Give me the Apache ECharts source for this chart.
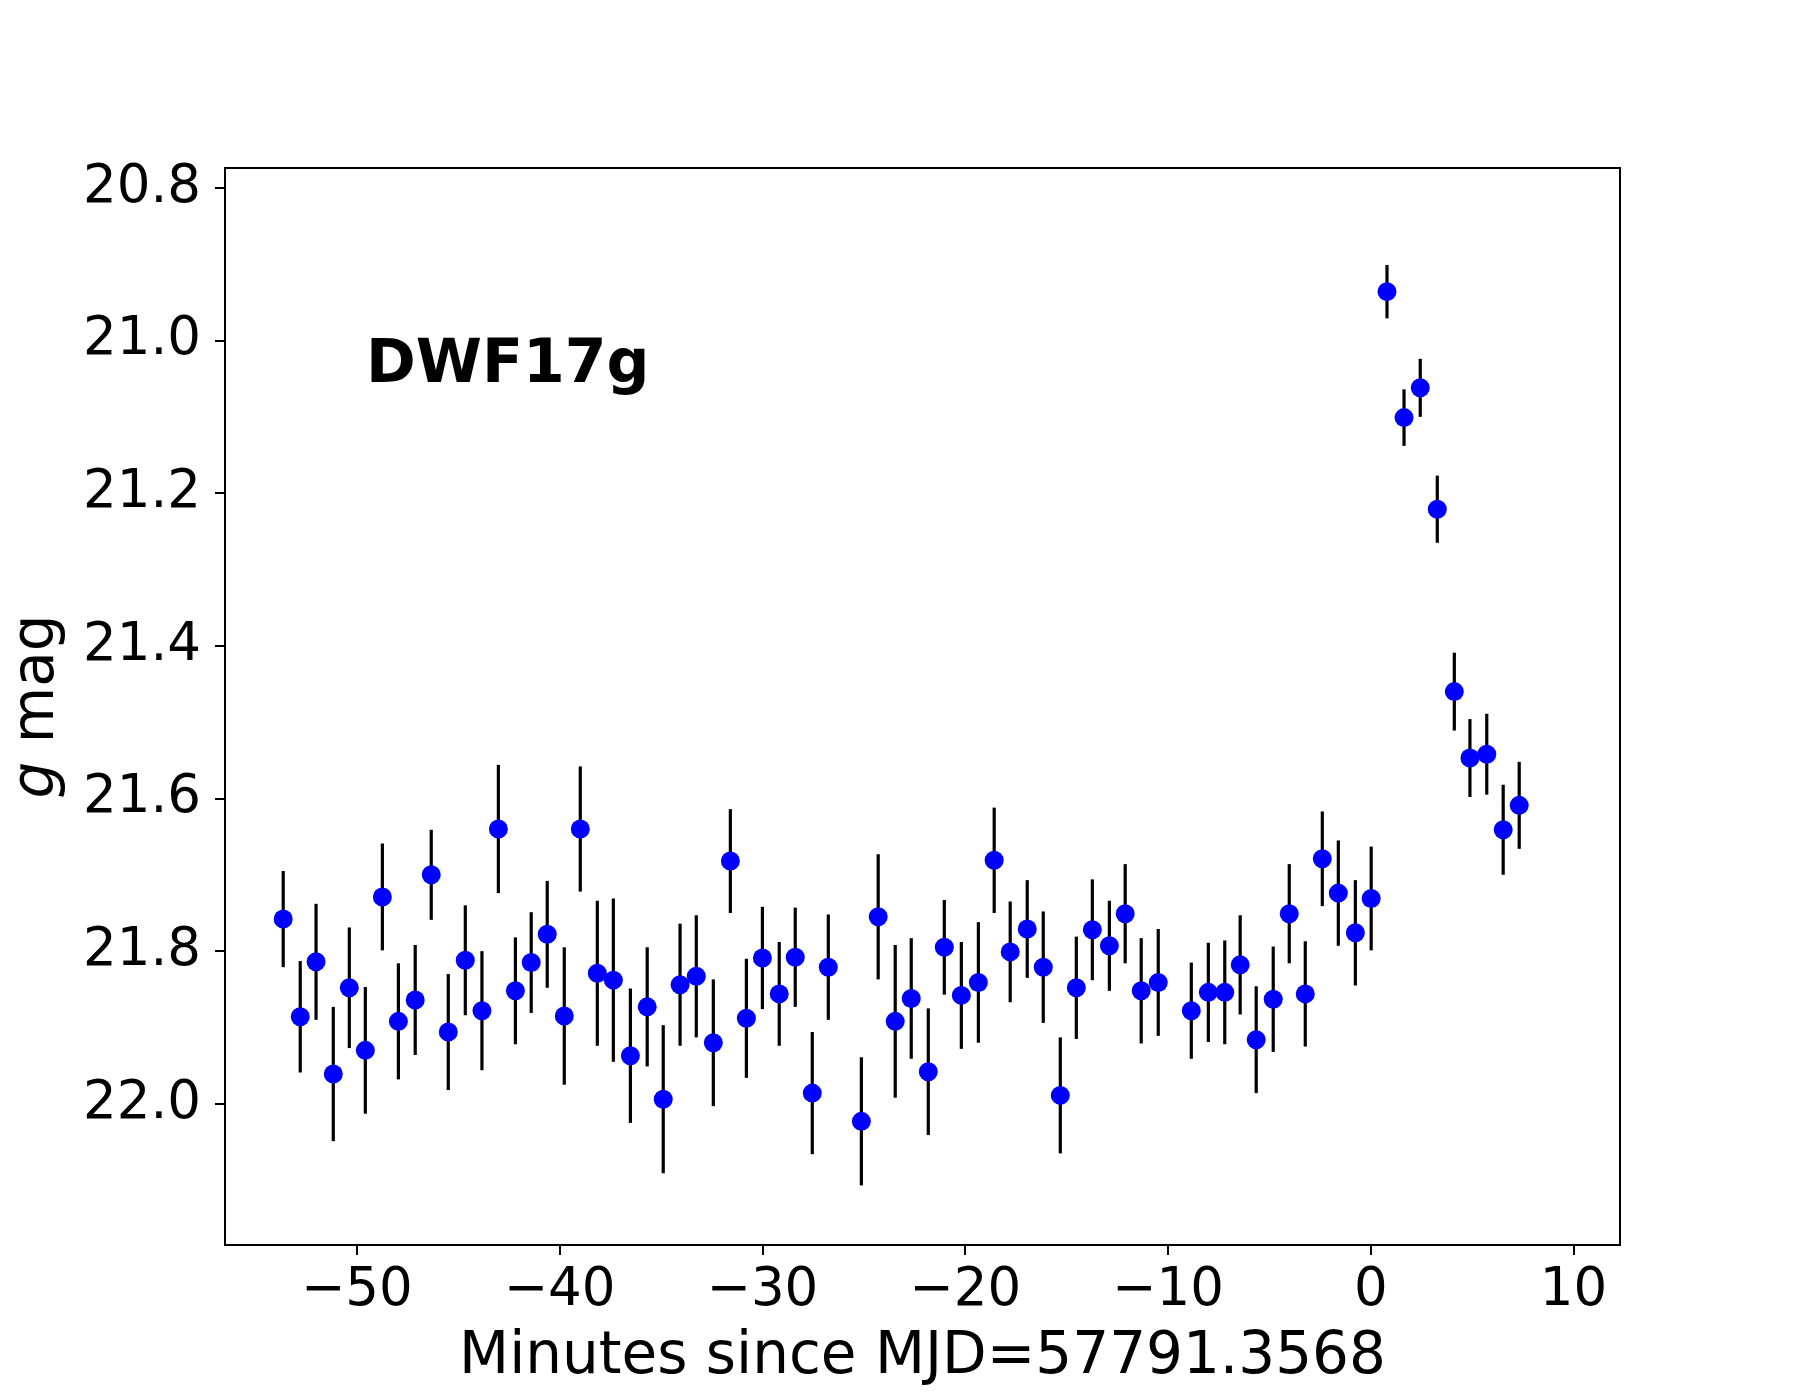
<!DOCTYPE html>
<html>
<head>
<meta charset="utf-8">
<script src="https://cdn.jsdelivr.net/npm/echarts@6/dist/echarts.min.js"></script>
<style>
  html, body { margin: 0; padding: 0; background: #fff; }
  #chart { width: 1800px; height: 1400px; }
</style>
</head>
<body>
<div id="chart"></div>
<script>
// minutes since MJD=57791.3568
const minutes = [
  -53.63, -52.79, -52.01, -51.16, -50.37, -49.58, -48.74, -47.95, -47.12, -46.33,
  -45.49, -44.65, -43.83, -43.02, -42.18, -41.40, -40.61, -39.77, -38.98, -38.14,
  -37.35, -36.51, -35.68, -34.89, -34.06, -33.26, -32.42, -31.58, -30.79, -30.00,
  -29.17, -28.38, -27.54, -26.75, -25.12, -24.29, -23.45, -22.66, -21.82, -21.03,
  -20.19, -19.35, -18.57, -17.78, -16.94, -16.15, -15.31, -14.52, -13.73, -12.89,
  -12.11, -11.32, -10.48, -8.85, -8.01, -7.20, -6.44, -5.65, -4.81, -4.02,
  -3.23, -2.39, -1.60, -0.76, 0.02, 0.80, 1.64, 2.44, 3.28, 4.12,
  4.89, 5.72, 6.53, 7.32
];
// g magnitude
const gmag = [
  21.758, 21.886, 21.814, 21.961, 21.848, 21.930, 21.729, 21.892, 21.864, 21.700,
  21.906, 21.812, 21.878, 21.640, 21.852, 21.815, 21.778, 21.885, 21.640, 21.829,
  21.838, 21.937, 21.873, 21.994, 21.844, 21.833, 21.920, 21.682, 21.888, 21.809,
  21.856, 21.808, 21.986, 21.821, 22.023, 21.755, 21.892, 21.862, 21.958, 21.795,
  21.858, 21.841, 21.681, 21.801, 21.771, 21.821, 21.989, 21.848, 21.772, 21.793,
  21.751, 21.852, 21.841, 21.878, 21.854, 21.854, 21.818, 21.916, 21.863, 21.751,
  21.856, 21.679, 21.724, 21.776, 21.731, 20.936, 21.101, 21.062, 21.221, 21.460,
  21.547, 21.542, 21.641, 21.609
];
// 1-sigma errors
const gerr = [
  0.063, 0.073, 0.076, 0.088, 0.079, 0.083, 0.070, 0.076, 0.072, 0.059,
  0.076, 0.072, 0.078, 0.084, 0.070, 0.066, 0.070, 0.090, 0.082, 0.095,
  0.107, 0.088, 0.078, 0.097, 0.080, 0.080, 0.083, 0.068, 0.078, 0.067,
  0.068, 0.065, 0.080, 0.069, 0.084, 0.082, 0.100, 0.079, 0.083, 0.062,
  0.070, 0.079, 0.069, 0.066, 0.064, 0.073, 0.076, 0.067, 0.066, 0.059,
  0.065, 0.069, 0.070, 0.063, 0.065, 0.068, 0.065, 0.070, 0.069, 0.065,
  0.069, 0.062, 0.069, 0.069, 0.068, 0.035, 0.037, 0.038, 0.044, 0.051,
  0.051, 0.053, 0.059, 0.057
];
const xTicks = [-50, -40, -30, -20, -10, 0, 10];
const yTicks = [20.8, 21.0, 21.2, 21.4, 21.6, 21.8, 22.0];

const FONT = '"DejaVu Sans", sans-serif';
const rows = minutes.map((t, i) => [t, gmag[i], gerr[i]]);

const chart = echarts.init(document.getElementById('chart'));
chart.setOption({
  animation: false,
  backgroundColor: '#fff',
  grid: {
    left: 225, right: 180, top: 168, bottom: 155,
    outerBoundsMode: 'none',
    containLabel: false,
    show: true, borderColor: '#000', borderWidth: 2, backgroundColor: 'transparent'
  },
  xAxis: {
    type: 'value',
    min: -56.5, max: 12.29,
    name: 'Minutes since MJD=57791.3568',
    nameLocation: 'middle',
    nameGap: 84,
    nameTextStyle: { fontFamily: FONT, fontSize: 58, color: '#000' },
    axisLine: { onZero: false, lineStyle: { color: '#000', width: 2 } },
    axisTick: { show: true, length: 10, customValues: xTicks, lineStyle: { color: '#000', width: 2 } },
    axisLabel: {
      customValues: xTicks, margin: 20,
      fontFamily: FONT, fontSize: 53, color: '#000',
      formatter: v => (v < 0 ? '\u2212' + Math.abs(v) : String(v))
    },
    splitLine: { show: false }
  },
  yAxis: {
    type: 'value',
    inverse: true,
    min: 20.774, max: 22.185,
    name: '{i|g} mag',
    nameLocation: 'middle',
    nameGap: 158,
    nameRotate: 90,
    nameTextStyle: {
      fontFamily: FONT, fontSize: 58, color: '#000',
      rich: { i: { fontFamily: FONT, fontSize: 58, fontStyle: 'italic', color: '#000' } }
    },
    axisLine: { onZero: false, lineStyle: { color: '#000', width: 2 } },
    axisTick: { show: true, length: 10, customValues: yTicks, lineStyle: { color: '#000', width: 2 } },
    axisLabel: {
      customValues: yTicks, margin: 24,
      fontFamily: FONT, fontSize: 53, color: '#000',
      formatter: v => v.toFixed(1)
    },
    splitLine: { show: false }
  },
  graphic: [
    {
      type: 'text',
      left: 366, top: 336,
      style: { text: 'DWF17g', font: 'bold 60px ' + FONT, fill: '#000' }
    }
  ],
  series: [
    {
      type: 'custom',
      data: rows,
      encode: { x: 0, y: 1 },
      renderItem: function (params, api) {
        const t = api.value(0), m = api.value(1), e = api.value(2);
        const p1 = api.coord([t, m - e]);
        const p2 = api.coord([t, m + e]);
        return {
          type: 'line',
          shape: { x1: p1[0], y1: p1[1], x2: p2[0], y2: p2[1] },
          style: { stroke: '#000', lineWidth: 3.2 }
        };
      },
      z: 2
    },
    {
      type: 'scatter',
      data: rows,
      encode: { x: 0, y: 1 },
      symbol: 'circle',
      symbolSize: 19,
      itemStyle: { color: '#0000ff', opacity: 1 },
      z: 3
    }
  ]
});
</script>
</body>
</html>
